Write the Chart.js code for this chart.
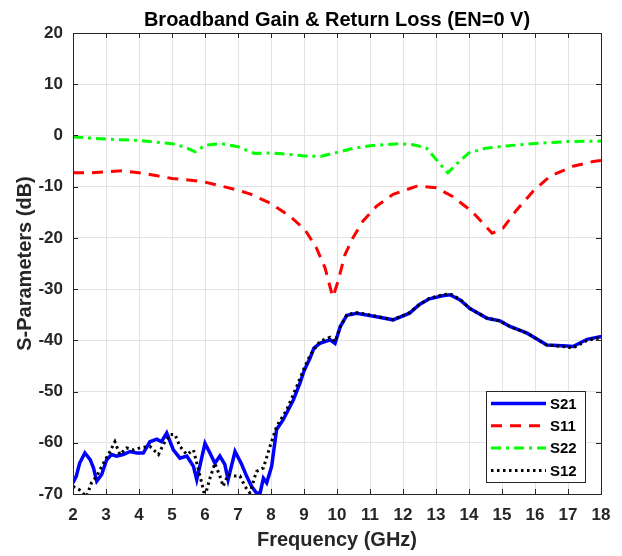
<!DOCTYPE html>
<html>
<head>
<meta charset="utf-8">
<script src="https://cdn.jsdelivr.net/npm/chart.js@4/dist/chart.umd.min.js"></script>
<style>
  html, body { margin: 0; padding: 0; background: #fff; }
  #wrap { width: 622px; height: 556px; }
</style>
</head>
<body>
<div id="wrap"><canvas id="sparams"></canvas></div>
<script>
// values (frequency in GHz, level in dB)
const s21Freq = [2.0, 2.1, 2.2, 2.36, 2.52, 2.62, 2.72, 2.87, 3.02, 3.17, 3.32, 3.52, 3.73, 3.93, 4.13, 4.33, 4.54, 4.68, 4.84, 5.04, 5.24, 5.45, 5.65, 5.75, 6.0, 6.15, 6.3, 6.45, 6.6, 6.7, 6.91, 7.11, 7.26, 7.41, 7.56, 7.67, 7.77, 7.87, 8.02, 8.17, 8.37, 8.68, 8.88, 9.0, 9.18, 9.3, 9.48, 9.79, 9.94, 10.1, 10.3, 10.6, 11.2, 11.7, 12.2, 12.5, 12.8, 13.2, 13.42, 13.73, 14.03, 14.55, 14.94, 15.24, 15.76, 16.36, 16.97, 17.15, 17.58, 17.97, 18.0];
const s21Db = [-67.8, -66.5, -64, -62, -63.3, -64.9, -67.5, -66.2, -63.3, -62.3, -62.6, -62.3, -61.7, -62, -62, -59.8, -59.3, -59.8, -58.1, -61.4, -63, -62.6, -64.6, -67.2, -60.1, -62, -64, -62.6, -64.2, -67.2, -61.7, -64.2, -66.5, -68.5, -69.8, -69.8, -66.9, -67.8, -64.6, -57.4, -55.5, -51.6, -48.3, -46, -43.5, -41.5, -40.6, -39.9, -40.6, -37.3, -35.1, -34.7, -35.4, -36.0, -34.7, -33.0, -31.9, -31.3, -31.1, -32.1, -33.8, -35.7, -36.2, -37.3, -38.6, -40.9, -41.1, -41.2, -39.8, -39.3, -39.3];

const s11Freq = [2, 2.5, 3, 3.5, 4, 4.5, 5, 5.5, 6, 6.5, 7, 7.36, 7.97, 8.58, 9.03, 9.38, 9.64, 9.84, 9.88, 10.03, 10.24, 10.48, 10.79, 11.2, 11.7, 12.42, 13.0, 13.5, 14.1, 14.7, 15.03, 15.45, 15.94, 16.45, 17.15, 17.76, 18];
const s11Db = [-7.3, -7.3, -7.1, -6.9, -7.3, -7.8, -8.4, -8.7, -9.1, -9.9, -10.7, -11.4, -13.2, -15.8, -18.4, -22, -25.9, -30.8, -31.5, -28.5, -23.3, -20, -16.7, -13.8, -11.5, -9.9, -10.2, -11.9, -14.9, -19.1, -18.1, -14.5, -10.9, -8, -6, -5.1, -4.9];

const s22Freq = [2, 3, 4, 5, 5.4, 5.7, 6, 6.5, 7, 7.5, 8, 8.5, 9, 9.5, 10, 10.5, 11, 11.9, 12.3, 12.7, 13.1, 13.36, 13.7, 14, 14.5, 15.2, 16.15, 16.97, 18];
const s22Db = [-0.3, -0.7, -1, -1.6, -2.3, -3.2, -1.9, -1.6, -2.2, -3.5, -3.4, -3.7, -4, -4.1, -3.3, -2.5, -2, -1.6, -1.8, -2.4, -5.4, -7.3, -5.1, -3.4, -2.5, -2, -1.5, -1.2, -1.1];

const s12Freq = [2.0, 2.2, 2.41, 2.56, 2.72, 2.92, 3.12, 3.27, 3.42, 3.62, 3.83, 4.03, 4.33, 4.59, 4.74, 4.94, 5.09, 5.24, 5.45, 5.65, 5.85, 6.0, 6.15, 6.3, 6.45, 6.55, 6.7, 6.86, 7.06, 7.21, 7.36, 7.56, 7.77, 7.97, 8.17, 8.48, 8.78, 9.0, 9.18, 9.48, 9.79, 9.94, 10.1, 10.3, 10.6, 11.2, 11.7, 12.2, 12.5, 12.8, 13.2, 13.42, 13.73, 14.03, 14.55, 14.94, 15.24, 15.76, 16.36, 16.97, 17.15, 17.58, 17.97, 18.0];
const s12Db = [-68.5, -69.2, -70.5, -67.8, -66.5, -64, -61.7, -59.8, -62.3, -61, -61.4, -61, -60.7, -62.3, -60.3, -58.4, -58.4, -60.7, -62.3, -61.4, -66.5, -70.5, -66.9, -64, -66.5, -68.5, -66.2, -66.5, -66.5, -68.5, -69.8, -65.6, -64.9, -60.7, -56.8, -53.5, -49, -45.5, -43, -40.2, -39.4, -40.3, -37.3, -35, -34.6, -35.3, -36, -34.6, -33, -31.8, -31.1, -30.9, -32, -33.8, -35.7, -36.2, -37.3, -38.6, -40.9, -41.3, -41.5, -40, -39.5, -39.5];

const seriesNames = ["S21", "S11", "S22", "S12"];
const xTicks = [2, 3, 4, 5, 6, 7, 8, 9, 10, 11, 12, 13, 14, 15, 16, 17, 18];
const yTicks = [20, 10, 0, -10, -20, -30, -40, -50, -60, -70];

const styles = [
    { color: "#0000ff", width: 3.5, dash: [] },
    { color: "#ff0000", width: 3, dash: [11, 8] },
    { color: "#00ff00", width: 3, dash: [10, 5, 3, 5] },
    { color: "#000000", width: 3, dash: [2.5, 3.5] }
];

const FONT = "'Liberation Sans', Arial, Helvetica, sans-serif";

function pts(xs, ys) {
    return xs.map((x, i) => ({ x: x, y: ys[i] }));
}

const allData = [pts(s21Freq, s21Db), pts(s11Freq, s11Db), pts(s22Freq, s22Db), pts(s12Freq, s12Db)];

// MATLAB-like box, inward ticks and legend inside the axes
const boxPlugin = {
    id: "boxPlugin",
    afterDatasetsDraw(chart) {
        const ctx = chart.ctx;
        const a = chart.chartArea;
        const xs = chart.scales.x, ys = chart.scales.y;
        ctx.save();
        ctx.strokeStyle = "#262626";
        ctx.lineWidth = 1;
        ctx.beginPath();
        xTicks.forEach(v => {
            const px = Math.round(xs.getPixelForValue(v)) + 0.5;
            ctx.moveTo(px, a.bottom); ctx.lineTo(px, a.bottom - 5);
            ctx.moveTo(px, a.top); ctx.lineTo(px, a.top + 5);
        });
        yTicks.forEach(v => {
            const py = Math.round(ys.getPixelForValue(v)) + 0.5;
            ctx.moveTo(a.left, py); ctx.lineTo(a.left + 5, py);
            ctx.moveTo(a.right, py); ctx.lineTo(a.right - 5, py);
        });
        ctx.stroke();
        ctx.strokeRect(Math.round(a.left) + 0.5, Math.round(a.top) + 0.5,
            Math.round(a.right - a.left), Math.round(a.bottom - a.top));

        // legend
        const bx = a.right - 115, by = a.bottom - 103, bw = 99, bh = 91;
        ctx.fillStyle = "#fff";
        ctx.fillRect(bx, by, bw, bh);
        ctx.strokeRect(bx + 0.5, by + 0.5, bw, bh);
        ctx.font = "bold 15px " + FONT;
        ctx.textBaseline = "middle";
        seriesNames.forEach((name, i) => {
            const st = styles[i];
            const yy = by + 12.5 + i * 22.3;
            ctx.beginPath();
            ctx.strokeStyle = st.color;
            ctx.lineWidth = st.width;
            ctx.setLineDash(st.dash);
            ctx.moveTo(bx + 5, yy); ctx.lineTo(bx + 60, yy);
            ctx.stroke();
            ctx.setLineDash([]);
            ctx.fillStyle = "#000";
            ctx.fillText(name, bx + 64, yy + 1);
        });
        ctx.restore();
    }
};

const chart = new Chart(document.getElementById("sparams"), {
    type: "line",
    data: {
        datasets: seriesNames.map((name, i) => ({
            label: name,
            data: allData[i],
            order: 3 - i,
            borderColor: styles[i].color,
            borderWidth: styles[i].width,
            borderDash: styles[i].dash,
            pointRadius: 0,
            tension: 0,
            fill: false
        }))
    },
    options: {
        responsive: true,
        maintainAspectRatio: false,
        animation: false,
        layout: { padding: { left: 0, right: 21, top: 0, bottom: 0 } },
        plugins: {
            legend: { display: false },
            tooltip: { enabled: false },
            title: {
                display: true,
                fullSize: false,
                text: "Broadband Gain & Return Loss (EN=0 V)",
                color: "#000",
                font: { family: FONT, size: 20, weight: "bold", lineHeight: 1.2 },
                padding: { top: 8, bottom: 1 }
            }
        },
        scales: {
            x: {
                type: "linear",
                min: 2,
                max: 18,
                afterFit: s => { s.height = 62; },
                afterBuildTicks: s => { s.ticks = xTicks.map(v => ({ value: v })); },
                grid: { color: "#e3e3e3", drawTicks: false },
                border: { display: false },
                ticks: {
                    color: "#262626",
                    padding: 11,
                    maxRotation: 0,
                    font: { family: FONT, size: 17, weight: "bold" }
                },
                title: {
                    display: true,
                    text: "Frequency (GHz)",
                    color: "#262626",
                    padding: { top: 0, bottom: 4 },
                    font: { family: FONT, size: 20, weight: "bold" }
                }
            },
            y: {
                type: "linear",
                min: -70,
                max: 20,
                afterFit: s => { s.width = 73; },
                afterBuildTicks: s => { s.ticks = yTicks.map(v => ({ value: v })); },
                grid: { color: "#e3e3e3", drawTicks: false },
                border: { display: false },
                ticks: {
                    color: "#262626",
                    padding: 10,
                    font: { family: FONT, size: 17, weight: "bold" }
                },
                title: {
                    display: true,
                    text: "S-Parameters (dB)",
                    color: "#262626",
                    padding: { top: 13, bottom: 0 },
                    font: { family: FONT, size: 20, weight: "bold" }
                }
            }
        }
    },
    plugins: [boxPlugin]
});
</script>
</body>
</html>
